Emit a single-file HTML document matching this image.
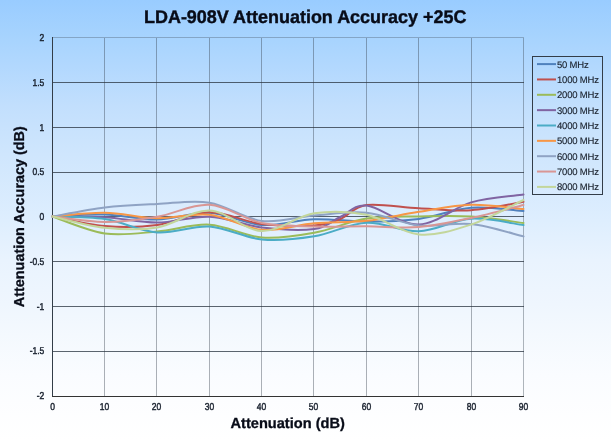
<!DOCTYPE html>
<html><head><meta charset="utf-8"><style>
html,body{margin:0;padding:0;width:611px;height:441px;overflow:hidden;background:#fff}
svg{display:block;will-change:transform}
text{font-family:"Liberation Sans",sans-serif;text-rendering:geometricPrecision}
</style></head><body>
<svg width="611" height="441" viewBox="0 0 611 441">
<defs>
<linearGradient id="bg" x1="0" y1="0" x2="0" y2="1">
<stop offset="0" stop-color="#99CCFF"/>
<stop offset="0.08" stop-color="#A6D3FE"/>
<stop offset="0.15" stop-color="#B2D8FE"/>
<stop offset="0.24" stop-color="#C2DFFD"/>
<stop offset="0.35" stop-color="#CFE6FD"/>
<stop offset="0.50" stop-color="#DEEEFE"/>
<stop offset="0.59" stop-color="#E9F3FE"/>
<stop offset="0.69" stop-color="#EFF6FE"/>
<stop offset="0.76" stop-color="#F4F9FE"/>
<stop offset="0.85" stop-color="#FAFCFF"/>
<stop offset="1" stop-color="#FFFFFF"/>
</linearGradient>
</defs>
<rect x="0" y="0" width="611" height="441" fill="url(#bg)"/>

<rect x="104" y="38" width="1" height="358" fill="rgba(50,60,72,0.4)"/>
<rect x="156" y="38" width="1" height="358" fill="rgba(50,60,72,0.4)"/>
<rect x="209" y="38" width="1" height="358" fill="rgba(50,60,72,0.4)"/>
<rect x="261" y="38" width="1" height="358" fill="rgba(50,60,72,0.4)"/>
<rect x="313" y="38" width="1" height="358" fill="rgba(50,60,72,0.4)"/>
<rect x="366" y="38" width="1" height="358" fill="rgba(50,60,72,0.4)"/>
<rect x="418" y="38" width="1" height="358" fill="rgba(50,60,72,0.4)"/>
<rect x="471" y="38" width="1" height="358" fill="rgba(50,60,72,0.4)"/>
<rect x="523" y="38" width="1" height="358" fill="rgba(60,72,86,0.4)"/>
<rect x="52" y="37" width="472" height="1" fill="rgba(60,72,86,0.33)"/>
<rect x="52" y="82" width="472" height="1" fill="rgba(42,52,64,0.76)"/>
<rect x="52" y="127" width="472" height="1" fill="rgba(42,52,64,0.76)"/>
<rect x="52" y="172" width="472" height="1" fill="rgba(42,52,64,0.76)"/>
<rect x="52" y="216" width="472" height="1" fill="rgba(42,52,64,0.76)"/>
<rect x="52" y="261" width="472" height="1" fill="rgba(42,52,64,0.76)"/>
<rect x="52" y="306" width="472" height="1" fill="rgba(42,52,64,0.76)"/>
<rect x="52" y="351" width="472" height="1" fill="rgba(42,52,64,0.76)"/>
<rect x="52" y="37" width="1" height="360" fill="#333D48"/>
<rect x="52" y="396" width="472" height="1" fill="#333"/>
<g fill="none" stroke-width="2.0" stroke-linejoin="round" stroke-linecap="round">
<path d="M52.50,216.50 C61.22,216.17 87.39,214.00 104.83,214.50 C122.28,215.00 139.72,219.78 157.17,219.50 C174.61,219.22 192.06,211.88 209.50,212.80 C226.94,213.72 244.39,223.93 261.83,225.00 C279.28,226.07 296.72,219.78 314.17,219.20 C331.61,218.62 349.06,221.55 366.50,221.50 C383.94,221.45 401.39,221.18 418.83,218.90 C436.28,216.62 453.72,209.12 471.17,207.80 C488.61,206.48 514.78,210.47 523.50,211.00" stroke="#4F81BD"/>
<path d="M52.50,216.50 C61.22,218.08 87.39,224.58 104.83,226.00 C122.28,227.42 139.72,227.28 157.17,225.00 C174.61,222.72 192.06,212.47 209.50,212.30 C226.94,212.13 244.39,221.80 261.83,224.00 C279.28,226.20 301.08,226.33 314.17,225.50 C327.25,224.67 331.61,222.42 340.33,219.00 C349.06,215.58 353.42,206.78 366.50,205.00 C379.58,203.22 401.39,207.43 418.83,208.30 C436.28,209.17 453.72,211.28 471.17,210.20 C488.61,209.12 514.78,203.20 523.50,201.80" stroke="#C0504D"/>
<path d="M52.50,216.50 C61.22,219.33 87.39,231.00 104.83,233.50 C122.28,236.00 139.72,232.97 157.17,231.50 C174.61,230.03 192.06,223.70 209.50,224.70 C226.94,225.70 244.39,236.17 261.83,237.50 C279.28,238.83 296.72,235.85 314.17,232.70 C331.61,229.55 349.06,221.30 366.50,218.60 C383.94,215.90 401.39,216.83 418.83,216.50 C436.28,216.17 453.72,215.52 471.17,216.60 C488.61,217.68 514.78,221.93 523.50,223.00" stroke="#9BBB59"/>
<path d="M52.50,216.50 C61.22,216.62 87.39,216.18 104.83,217.20 C122.28,218.22 139.72,222.68 157.17,222.60 C174.61,222.52 192.06,215.88 209.50,216.70 C226.94,217.52 244.39,225.45 261.83,227.50 C279.28,229.55 301.08,230.75 314.17,229.00 C327.25,227.25 331.61,220.90 340.33,217.00 C349.06,213.10 353.42,204.35 366.50,205.60 C379.58,206.85 401.39,225.03 418.83,224.50 C436.28,223.97 453.72,207.38 471.17,202.40 C488.61,197.42 514.78,195.90 523.50,194.60" stroke="#8064A2"/>
<path d="M52.50,216.50 C61.22,216.92 87.39,216.35 104.83,219.00 C122.28,221.65 139.72,231.15 157.17,232.40 C174.61,233.65 192.06,225.32 209.50,226.50 C226.94,227.68 244.39,237.87 261.83,239.50 C279.28,241.13 296.72,239.10 314.17,236.30 C331.61,233.50 349.06,223.53 366.50,222.70 C383.94,221.87 401.39,231.97 418.83,231.30 C436.28,230.63 453.72,219.73 471.17,218.70 C488.61,217.67 514.78,224.03 523.50,225.10" stroke="#4BACC6"/>
<path d="M52.50,216.50 C61.22,215.87 87.39,212.42 104.83,212.70 C122.28,212.98 139.72,217.87 157.17,218.20 C174.61,218.53 192.06,212.77 209.50,214.70 C226.94,216.63 244.39,228.38 261.83,229.80 C279.28,231.22 296.72,224.70 314.17,223.20 C331.61,221.70 349.06,222.70 366.50,220.80 C383.94,218.90 401.39,214.48 418.83,211.80 C436.28,209.12 453.72,205.17 471.17,204.70 C488.61,204.23 514.78,208.28 523.50,209.00" stroke="#F79646"/>
<path d="M52.50,216.50 C61.22,214.98 87.39,209.48 104.83,207.40 C122.28,205.32 139.72,204.78 157.17,204.00 C174.61,203.22 192.06,199.87 209.50,202.70 C226.94,205.53 244.39,218.87 261.83,221.00 C279.28,223.13 296.72,216.88 314.17,215.50 C331.61,214.12 349.06,211.03 366.50,212.70 C383.94,214.37 401.39,223.62 418.83,225.50 C436.28,227.38 453.72,222.18 471.17,224.00 C488.61,225.82 514.78,234.33 523.50,236.40" stroke="#8FA3C4"/>
<path d="M52.50,216.50 C61.22,217.42 87.39,221.97 104.83,222.00 C122.28,222.03 139.72,219.57 157.17,216.70 C174.61,213.83 192.06,203.75 209.50,204.80 C226.94,205.85 244.39,219.38 261.83,223.00 C279.28,226.62 296.72,225.95 314.17,226.50 C331.61,227.05 349.06,226.22 366.50,226.30 C383.94,226.38 401.39,228.38 418.83,227.00 C436.28,225.62 453.72,221.67 471.17,218.00 C488.61,214.33 514.78,207.17 523.50,205.00" stroke="#D99694"/>
<path d="M52.50,216.50 C61.22,218.38 87.39,225.97 104.83,227.80 C122.28,229.63 139.72,230.38 157.17,227.50 C174.61,224.62 192.06,209.92 209.50,210.50 C226.94,211.08 244.39,230.53 261.83,231.00 C279.28,231.47 296.72,216.00 314.17,213.30 C331.61,210.60 349.06,211.28 366.50,214.80 C383.94,218.32 401.39,232.78 418.83,234.40 C436.28,236.02 453.72,230.23 471.17,224.50 C488.61,218.77 514.78,204.08 523.50,200.00" stroke="#C3D69B"/>
</g>
<text transform="translate(44.3,41.00) scale(0.85,1)" font-size="10.0" text-anchor="end" fill="#1b2330" stroke="#1b2330" stroke-width="0.45">2</text>
<text transform="translate(44.3,86.00) scale(0.85,1)" font-size="10.0" text-anchor="end" fill="#1b2330" stroke="#1b2330" stroke-width="0.45">1.5</text>
<text transform="translate(44.3,131.00) scale(0.85,1)" font-size="10.0" text-anchor="end" fill="#1b2330" stroke="#1b2330" stroke-width="0.45">1</text>
<text transform="translate(44.3,175.00) scale(0.85,1)" font-size="10.0" text-anchor="end" fill="#1b2330" stroke="#1b2330" stroke-width="0.45">0.5</text>
<text transform="translate(44.3,220.00) scale(0.85,1)" font-size="10.0" text-anchor="end" fill="#1b2330" stroke="#1b2330" stroke-width="0.45">0</text>
<text transform="translate(44.3,265.00) scale(0.85,1)" font-size="10.0" text-anchor="end" fill="#1b2330" stroke="#1b2330" stroke-width="0.45">-0.5</text>
<text transform="translate(44.3,310.00) scale(0.85,1)" font-size="10.0" text-anchor="end" fill="#1b2330" stroke="#1b2330" stroke-width="0.45">-1</text>
<text transform="translate(44.3,354.00) scale(0.85,1)" font-size="10.0" text-anchor="end" fill="#1b2330" stroke="#1b2330" stroke-width="0.45">-1.5</text>
<text transform="translate(44.3,399.00) scale(0.85,1)" font-size="10.0" text-anchor="end" fill="#1b2330" stroke="#1b2330" stroke-width="0.45">-2</text>
<text transform="translate(52.50,409.8) scale(0.85,1)" font-size="10.0" text-anchor="middle" fill="#1b2330" stroke="#1b2330" stroke-width="0.45">0</text>
<text transform="translate(104.50,409.8) scale(0.85,1)" font-size="10.0" text-anchor="middle" fill="#1b2330" stroke="#1b2330" stroke-width="0.45">10</text>
<text transform="translate(156.50,409.8) scale(0.85,1)" font-size="10.0" text-anchor="middle" fill="#1b2330" stroke="#1b2330" stroke-width="0.45">20</text>
<text transform="translate(209.50,409.8) scale(0.85,1)" font-size="10.0" text-anchor="middle" fill="#1b2330" stroke="#1b2330" stroke-width="0.45">30</text>
<text transform="translate(261.50,409.8) scale(0.85,1)" font-size="10.0" text-anchor="middle" fill="#1b2330" stroke="#1b2330" stroke-width="0.45">40</text>
<text transform="translate(313.50,409.8) scale(0.85,1)" font-size="10.0" text-anchor="middle" fill="#1b2330" stroke="#1b2330" stroke-width="0.45">50</text>
<text transform="translate(366.50,409.8) scale(0.85,1)" font-size="10.0" text-anchor="middle" fill="#1b2330" stroke="#1b2330" stroke-width="0.45">60</text>
<text transform="translate(418.50,409.8) scale(0.85,1)" font-size="10.0" text-anchor="middle" fill="#1b2330" stroke="#1b2330" stroke-width="0.45">70</text>
<text transform="translate(471.50,409.8) scale(0.85,1)" font-size="10.0" text-anchor="middle" fill="#1b2330" stroke="#1b2330" stroke-width="0.45">80</text>
<text transform="translate(523.50,409.8) scale(0.85,1)" font-size="10.0" text-anchor="middle" fill="#1b2330" stroke="#1b2330" stroke-width="0.45">90</text>
<text transform="translate(305.2,22.9) scale(0.982,1)" font-size="18.3" font-weight="bold" text-anchor="middle" fill="#080c18" stroke="#080c18" stroke-width="0.4">LDA-908V Attenuation Accuracy +25C</text>
<text x="287.7" y="428.3" font-size="14.6" font-weight="bold" text-anchor="middle" fill="#080c18" stroke="#080c18" stroke-width="0.3">Attenuation (dB)</text>
<text transform="translate(24.3,216.7) rotate(-90)" x="0" y="0" font-size="14.4" font-weight="bold" text-anchor="middle" fill="#080c18" stroke="#080c18" stroke-width="0.3">Attenuation Accuracy (dB)</text>
<rect x="532.5" y="56.5" width="70" height="138" fill="none" stroke="#333D48" stroke-width="1"/>
<line x1="537" y1="64.10" x2="556" y2="64.10" stroke="#4F81BD" stroke-width="2"/>
<text x="557" y="67.50" font-size="9.5" letter-spacing="-0.2" fill="#1c2430" stroke="#1c2430" stroke-width="0.15">50 MHz</text>
<line x1="537" y1="79.45" x2="556" y2="79.45" stroke="#C0504D" stroke-width="2"/>
<text x="557" y="82.85" font-size="9.5" letter-spacing="-0.2" fill="#1c2430" stroke="#1c2430" stroke-width="0.15">1000 MHz</text>
<line x1="537" y1="94.80" x2="556" y2="94.80" stroke="#9BBB59" stroke-width="2"/>
<text x="557" y="98.20" font-size="9.5" letter-spacing="-0.2" fill="#1c2430" stroke="#1c2430" stroke-width="0.15">2000 MHz</text>
<line x1="537" y1="110.15" x2="556" y2="110.15" stroke="#8064A2" stroke-width="2"/>
<text x="557" y="113.55" font-size="9.5" letter-spacing="-0.2" fill="#1c2430" stroke="#1c2430" stroke-width="0.15">3000 MHz</text>
<line x1="537" y1="125.50" x2="556" y2="125.50" stroke="#4BACC6" stroke-width="2"/>
<text x="557" y="128.90" font-size="9.5" letter-spacing="-0.2" fill="#1c2430" stroke="#1c2430" stroke-width="0.15">4000 MHz</text>
<line x1="537" y1="140.85" x2="556" y2="140.85" stroke="#F79646" stroke-width="2"/>
<text x="557" y="144.25" font-size="9.5" letter-spacing="-0.2" fill="#1c2430" stroke="#1c2430" stroke-width="0.15">5000 MHz</text>
<line x1="537" y1="156.20" x2="556" y2="156.20" stroke="#8FA3C4" stroke-width="2"/>
<text x="557" y="159.60" font-size="9.5" letter-spacing="-0.2" fill="#1c2430" stroke="#1c2430" stroke-width="0.15">6000 MHz</text>
<line x1="537" y1="171.55" x2="556" y2="171.55" stroke="#D99694" stroke-width="2"/>
<text x="557" y="174.95" font-size="9.5" letter-spacing="-0.2" fill="#1c2430" stroke="#1c2430" stroke-width="0.15">7000 MHz</text>
<line x1="537" y1="186.90" x2="556" y2="186.90" stroke="#C3D69B" stroke-width="2"/>
<text x="557" y="190.30" font-size="9.5" letter-spacing="-0.2" fill="#1c2430" stroke="#1c2430" stroke-width="0.15">8000 MHz</text>
</svg></body></html>
